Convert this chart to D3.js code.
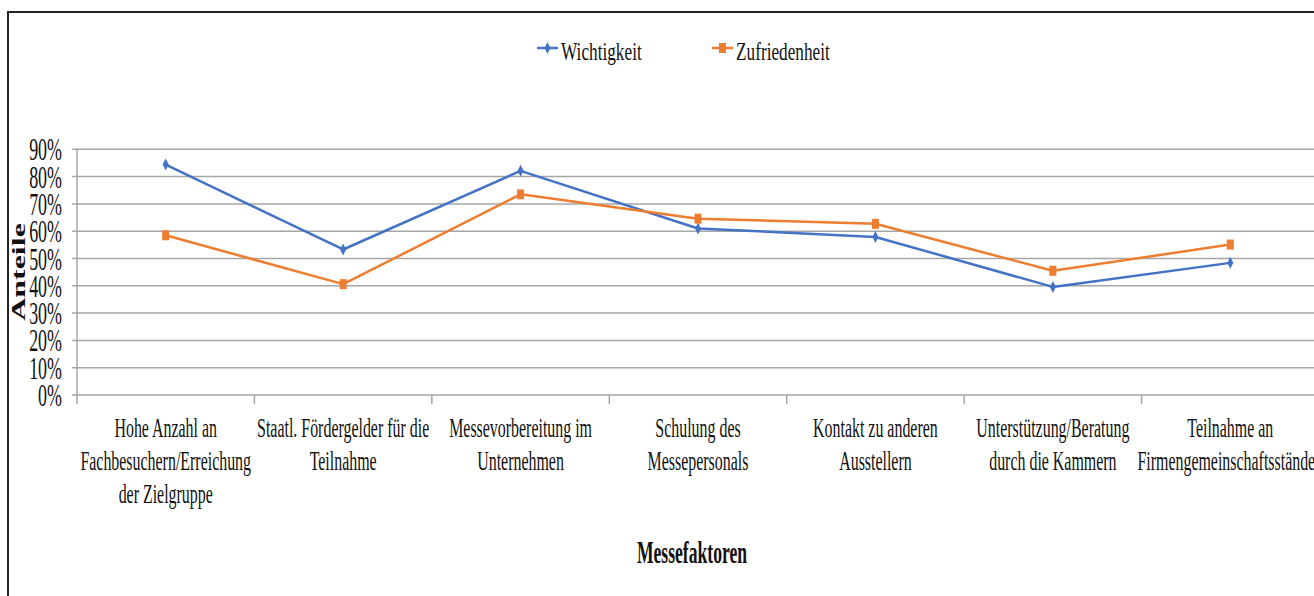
<!DOCTYPE html>
<html>
<head>
<meta charset="utf-8">
<script src="https://cdn.jsdelivr.net/npm/d3@7"></script>
<style>
  body { margin: 0; background: #fff; overflow: hidden; }
  text { font-family: "Liberation Serif", "Times New Roman", serif; fill: #111; }
</style>
</head>
<body>
<svg id="chart" width="1314" height="596"></svg>
<script>
'use strict';

// Data
const categories = [
  'Hohe Anzahl an\nFachbesuchern/Erreichung\nder Zielgruppe',
  'Staatl. Fördergelder für die\nTeilnahme',
  'Messevorbereitung im\nUnternehmen',
  'Schulung des\nMessepersonals',
  'Kontakt zu anderen\nAusstellern',
  'Unterstützung/Beratung\ndurch die Kammern',
  'Teilnahme an\nFirmengemeinschaftsständen'
];
const wichtigkeit = [0.844, 0.533, 0.821, 0.610, 0.579, 0.396, 0.484];
const zufriedenheit = [0.585, 0.406, 0.735, 0.646, 0.627, 0.455, 0.551];
const yTicks = [0, 0.1, 0.2, 0.3, 0.4, 0.5, 0.6, 0.7, 0.8, 0.9];
const seriesNames = ['Wichtigkeit', 'Zufriedenheit'];

const svg = d3.select('#chart');
const blue = '#4472C4', orange = '#ED7D31', grid = '#a6a6a6';

// outer frame
svg.append('rect')
  .attr('x', 8).attr('y', 12)
  .attr('width', 1340).attr('height', 620)
  .attr('fill', 'none').attr('stroke', '#222').attr('stroke-width', 2);

// scales
const x = d3.scaleBand().domain(d3.range(categories.length)).range([77, 1319]);
const y = d3.scaleLinear().domain([0, 0.9]).range([395, 149.3]);

// gridlines + y tick marks
svg.append('g').selectAll('line').data(yTicks).join('line')
  .attr('x1', 72).attr('x2', 1319)
  .attr('y1', d => y(d)).attr('y2', d => y(d))
  .attr('stroke', grid).attr('stroke-width', 1.5);

// vertical axis line
svg.append('line')
  .attr('x1', 77).attr('x2', 77).attr('y1', y(0.9)).attr('y2', 404)
  .attr('stroke', grid).attr('stroke-width', 1.5);

// x tick marks at category boundaries
svg.append('g').selectAll('line').data(d3.range(1, categories.length)).join('line')
  .attr('x1', d => x(d)).attr('x2', d => x(d))
  .attr('y1', y(0)).attr('y2', 404)
  .attr('stroke', grid).attr('stroke-width', 1.5);

// y tick labels (condensed look)
svg.append('g').selectAll('text').data(yTicks).join('text')
  .attr('transform', d => `translate(62,${y(d) + 11}) scale(0.56,1)`)
  .attr('text-anchor', 'end')
  .style('font-size', '32px')
  .text(d => d3.format('.0%')(d));

// y axis title
svg.append('text')
  .attr('transform', 'translate(25,272) rotate(-90) scale(1,0.57)')
  .attr('text-anchor', 'middle')
  .style('font-size', '32px').style('font-weight', 'bold')
  .text('Anteile');

// category labels
const catG = svg.append('g').selectAll('text').data(categories).join('text')
  .attr('transform', (d, i) => `translate(${x(i) + x.bandwidth() / 2},437) scale(0.59,1)`)
  .attr('text-anchor', 'middle')
  .style('font-size', '27px');
catG.selectAll('tspan').data(d => d.split('\n')).join('tspan')
  .attr('x', 0).attr('y', (d, i) => i * 33)
  .text(d => d);

// x axis title
svg.append('text')
  .attr('transform', 'translate(692,563) scale(0.55,1)')
  .attr('text-anchor', 'middle')
  .style('font-size', '32px').style('font-weight', 'bold')
  .text('Messefaktoren');

// lines
const line = d3.line().x((d, i) => x(i) + x.bandwidth() / 2).y(d => y(d));
const diamond = 'M0,-6L3,0L0,6L-3,0Z';
const square = 'M-3.5,-5H3.5V5H-3.5Z';

[[wichtigkeit, blue, diamond], [zufriedenheit, orange, square]].forEach(([vals, col, shape]) => {
  svg.append('path').datum(vals)
    .attr('d', line)
    .attr('fill', 'none').attr('stroke', col).attr('stroke-width', 2.5)
    .attr('stroke-linejoin', 'round');
  svg.append('g').selectAll('path').data(vals).join('path')
    .attr('transform', (d, i) => `translate(${x(i) + x.bandwidth() / 2},${y(d)})`)
    .attr('d', shape).attr('fill', col);
});

// legend
const legend = [
  { name: seriesNames[0], col: blue, shape: diamond, x: 537 },
  { name: seriesNames[1], col: orange, shape: square, x: 712 }
];
const lg = svg.append('g').selectAll('g').data(legend).join('g')
  .attr('transform', d => `translate(${d.x},48)`);
lg.append('line').attr('x1', 0).attr('x2', 21).attr('y1', 0).attr('y2', 0)
  .attr('stroke', d => d.col).attr('stroke-width', 2.5);
lg.append('path').attr('transform', 'translate(10.5,0)')
  .attr('d', d => d.shape).attr('fill', d => d.col);
lg.append('text')
  .attr('transform', 'translate(24,12) scale(0.69,1)')
  .style('font-size', '25px')
  .text(d => d.name);
</script>
</body>
</html>
